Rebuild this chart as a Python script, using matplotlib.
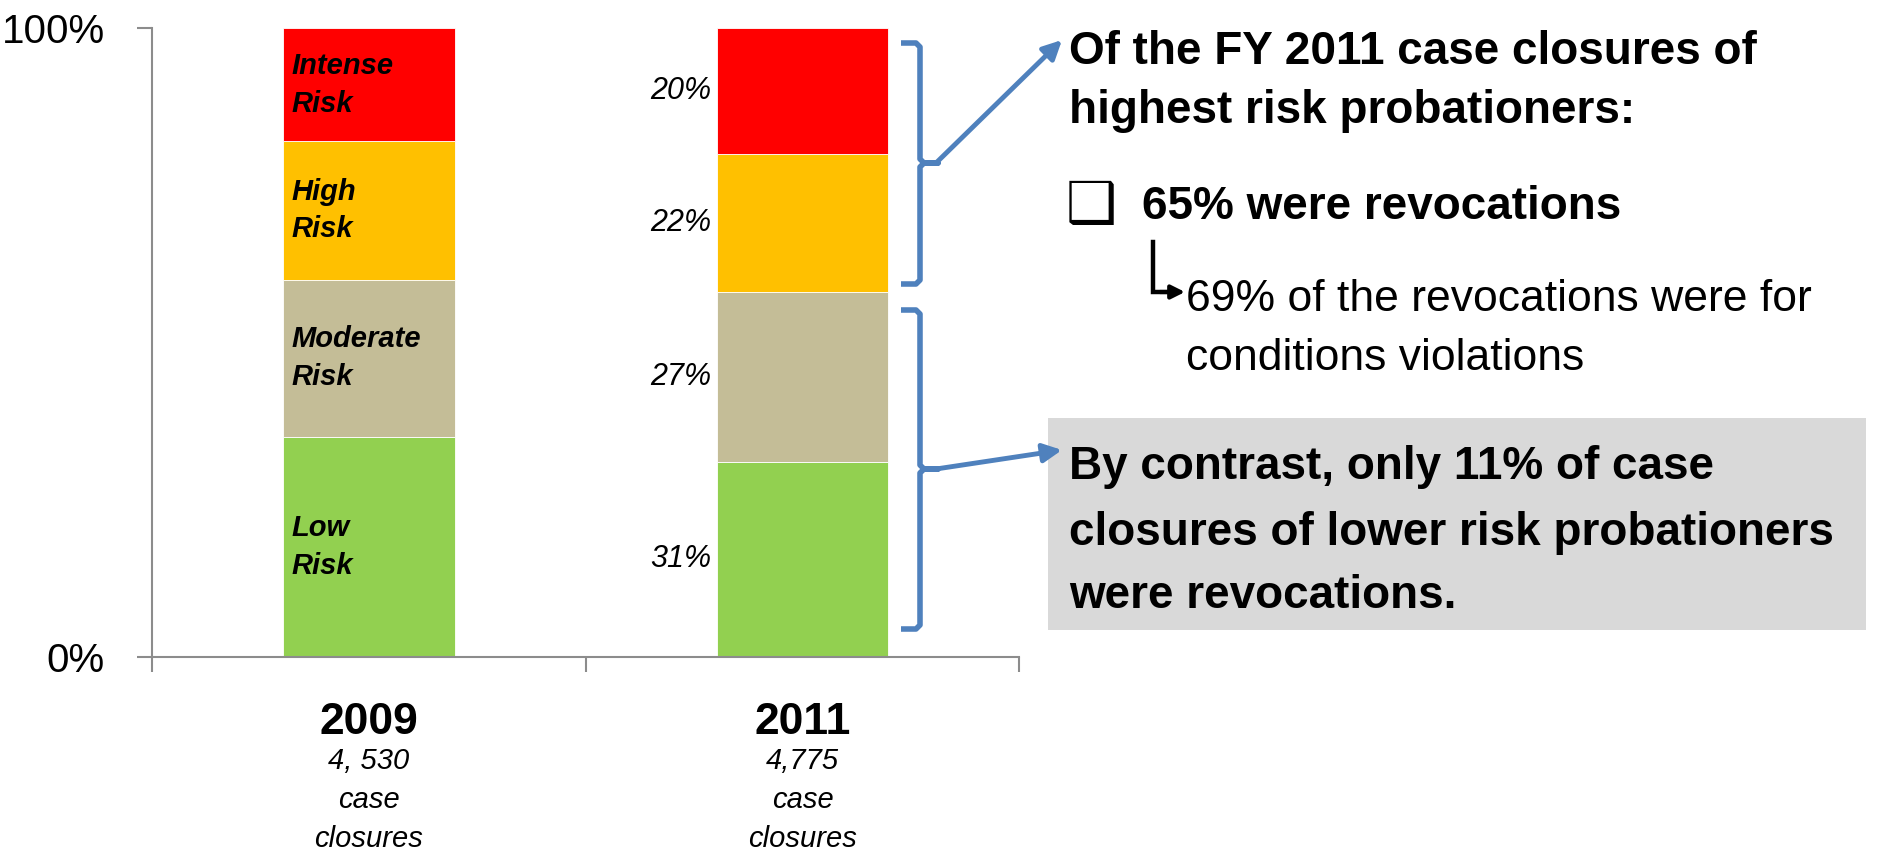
import matplotlib
matplotlib.use('Agg')
import matplotlib.pyplot as plt
import numpy as np
from matplotlib.patches import Rectangle

plt.rcParams['font.family'] = ['Liberation Sans', 'DejaVu Sans']

# case closures by risk level, share of all closures (%)
years = ['2009', '2011']
closures = ['4, 530', '4,775']
risk_levels = ['Low\nRisk', 'Moderate\nRisk', 'High\nRisk', 'Intense\nRisk']
colors = ['#92D050', '#C4BD97', '#FFC000', '#FF0000']
share_2009 = [35, 25, 22, 18]
share_2011 = [31, 27, 22, 20]

fig = plt.figure(figsize=(18.78, 8.51), dpi=100)
ax = fig.add_axes([0.081, 0.228, 0.4617, 0.739])

x = np.arange(len(years))
width = 0.395
shares = np.array([share_2009, share_2011], dtype=float).T
bottom = np.zeros(len(years))
for level, vals, c in zip(risk_levels, shares, colors):
    ax.bar(x, vals, width=width, bottom=bottom, color=c,
           edgecolor='white', linewidth=0.6)
    mids = bottom + vals / 2
    # level names sit inside the 2009 bar
    ax.annotate(level, (x[0] - width / 2, mids[0]), xytext=(6, 0),
                textcoords='offset points', ha='left', va='center',
                fontsize=21, fontweight='bold', fontstyle='italic',
                linespacing=1.45)
    # 2011 shares to the left of the bar
    ax.annotate(f'{vals[1]:.0f}%', (x[1] - width / 2, mids[1]), xytext=(-4, 0),
                textcoords='offset points', ha='right', va='center',
                fontsize=22, fontstyle='italic')
    bottom += vals

ax.set_xlim(-0.5, 1.5)
ax.set_ylim(0, 100)
ax.set_xticks([-0.5, 0.5, 1.5])
ax.set_xticklabels([])
ax.set_yticks([0, 100])
ax.set_yticklabels(['0%', '100%'])
ax.tick_params(axis='y', length=11, width=1.5, color='#8c8c8c', pad=23, labelsize=29)
ax.tick_params(axis='x', length=11, width=1.5, color='#8c8c8c')
for s in ['top', 'right']:
    ax.spines[s].set_visible(False)
for s in ['left', 'bottom']:
    ax.spines[s].set_color('#8c8c8c')
    ax.spines[s].set_linewidth(1.5)

# year and number of closures under each bar
xt = ax.get_xaxis_transform()
for i, (yr, n) in enumerate(zip(years, closures)):
    ax.annotate(yr, (i, 0), xycoords=xt, xytext=(0, -47), textcoords='offset points',
                ha='center', va='center', fontsize=32, fontweight='bold',
                annotation_clip=False)
    ax.annotate(f'{n}\ncase\nclosures', (i, 0), xycoords=xt, xytext=(0, -103),
                textcoords='offset points', ha='center', va='center',
                fontsize=21, fontstyle='italic', linespacing=1.52,
                annotation_clip=False)

# callouts drawn in pixel space on an overlay
ov = fig.add_axes([0, 0, 1, 1], zorder=5)
ov.set_xlim(0, 1878)
ov.set_ylim(851, 0)
ov.axis('off')

blue = '#4F81BD'


def brace(xv, y0, y1, ym, hook=19, nub=18, r=4):
    xs = [xv - hook, xv - r, xv, xv, xv + r, xv + nub, xv + r, xv, xv, xv - r, xv - hook]
    ys = [y0, y0, y0 + r, ym - r, ym, ym, ym, ym + r, y1 - r, y1, y1]
    ov.plot(xs, ys, color=blue, lw=4, solid_joinstyle='round', solid_capstyle='butt')


brace(920, 43, 284, 163)
brace(920, 310, 629, 469)

arrow = dict(arrowstyle='-|>', color=blue, lw=3.5, mutation_scale=28, shrinkA=0, shrinkB=0)
ov.annotate('', xy=(1062, 40), xytext=(936, 163), arrowprops=arrow)
ov.annotate('', xy=(1062, 450), xytext=(936, 469), arrowprops=arrow)

ov.add_patch(Rectangle((1048, 418), 818, 212, facecolor='#D9D9D9', edgecolor='none', zorder=0))

left = 1069
big = 33
ov.text(left, 64, 'Of the FY 2011 case closures of', fontsize=big, fontweight='bold', va='baseline')
ov.text(left, 123, 'highest risk probationers:', fontsize=big, fontweight='bold', va='baseline')
ov.text(left - 3, 222, '\u2751', fontsize=41, family='DejaVu Sans', va='baseline')
ov.text(1142, 219, '65% were revocations', fontsize=big, fontweight='bold', va='baseline')

ov.plot([1153, 1153, 1166], [242, 292, 292], color='black', lw=3.2, solid_joinstyle='miter')
ov.annotate('', xy=(1185, 292), xytext=(1160, 292),
            arrowprops=dict(arrowstyle='-|>', color='black', lw=3, mutation_scale=20,
                            shrinkA=0, shrinkB=0))
ov.text(1186, 311, '69% of the revocations were for', fontsize=32, va='baseline')
ov.text(1186, 370, 'conditions violations', fontsize=32, va='baseline')

ov.text(left, 479, 'By contrast, only 11% of case', fontsize=big, fontweight='bold', va='baseline')
ov.text(left, 545, 'closures of lower risk probationers', fontsize=big, fontweight='bold', va='baseline')
ov.text(left, 608, 'were revocations.', fontsize=big, fontweight='bold', va='baseline')

fig.savefig('out.png', dpi=100)
